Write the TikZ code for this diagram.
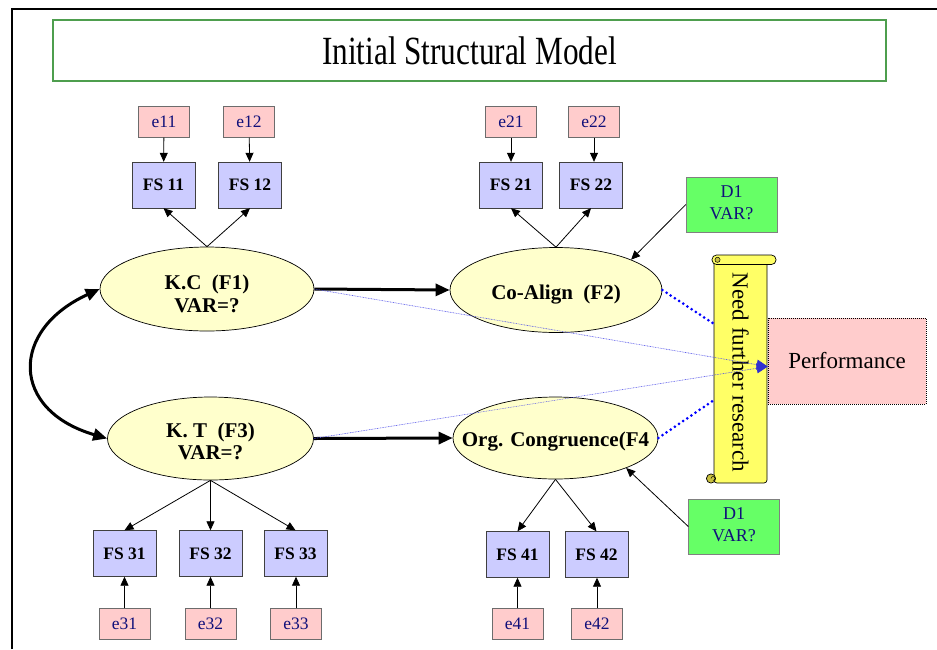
\documentclass[tikz,border=0pt]{standalone}
\usepackage{fontspec}
\setmainfont{Liberation Serif}
\usetikzlibrary{arrows.meta,shapes.geometric,calc}

\definecolor{ebox}{HTML}{FFCCCC}
\definecolor{fsbox}{HTML}{CCCCFF}
\definecolor{latent}{HTML}{FFFFCC}
\definecolor{dbox}{HTML}{66FF66}
\definecolor{navy}{HTML}{10107A}
\definecolor{titlegreen}{HTML}{4E9E4E}
\definecolor{scrollfill}{HTML}{FFFF66}
\definecolor{curlfill}{HTML}{C8C040}
\definecolor{linkblue}{HTML}{0000FF}
\definecolor{faintblue}{HTML}{5050E8}
\definecolor{tipblue}{HTML}{3030D0}

\newcommand{\twolines}[2]{\begin{tabular}{@{}c@{}}#1\\#2\end{tabular}}

\begin{document}
\begin{tikzpicture}[x=1pt,y=-1pt,
  errbox/.style={draw=gray!85!black, fill=ebox, minimum width=51pt, minimum height=31pt,
    inner sep=0pt, font=\fontsize{17.5}{20}\selectfont, text=navy},
  indbox/.style={draw=black!75, fill=fsbox, minimum width=63pt, minimum height=46pt,
    inner sep=0pt, font=\fontsize{17.5}{20}\selectfont\bfseries},
  factor/.style={ellipse, draw, line width=0.7pt, fill=latent, inner sep=0pt},
  factortext/.style={inner sep=0pt, font=\fontsize{21}{22.5}\selectfont\bfseries},
  distbox/.style={draw=gray, fill=dbox, minimum width=91pt, minimum height=55pt,
    inner sep=0pt, font=\fontsize{18}{22}\selectfont, text=navy},
  load/.style={-{Triangle[length=9pt,width=8pt]}, line width=0.8pt},
  structural/.style={-{Triangle[length=14pt,width=12pt]}, line width=3pt},
  faintlink/.style={faintblue, line width=0.6pt, dash pattern=on 0.8pt off 0.8pt,
    -{Triangle[length=11pt,width=10pt,fill=tipblue,color=tipblue]}},
  pendinglink/.style={linkblue, line width=3pt, line cap=round, dash pattern=on 0pt off 5pt}
]
\useasboundingbox (0,0) rectangle (937,649);

% page frame
\draw[line width=2.4pt] (12,649) -- (12,9) -- (937,9);

% title
\node[draw=titlegreen, line width=1.2pt, minimum width=833pt, minimum height=61pt, inner sep=0pt]
  (title) at (469.5,50.5)
  {\scalebox{0.78}[1]{\fontsize{40}{40}\selectfont Initial Structural Model}};

% latent factors
\node[factor, minimum width=214pt, minimum height=84pt,
  label={[factortext, yshift=-7.5pt]center:\twolines{K.C\ \ (F1)}{VAR=?}}] (kc) at (207,289) {};
\node[factor, minimum width=212pt, minimum height=85pt,
  label={[factortext, yshift=-4.5pt]center:Co-Align\ \ (F2)}] (ca) at (556,290) {};
\node[factor, minimum width=206pt, minimum height=83pt,
  label={[factortext, yshift=-5.5pt]center:\twolines{K. T\ \ (F3)}{VAR=?}}] (kt) at (210.5,438.5) {};
\node[factor, minimum width=205pt, minimum height=82pt,
  label={[factortext, yshift=-3.5pt]center:Org. Congruence(F4}] (oc) at (555.5,438) {};

% indicators
\node[indbox] (fs11) at (163.5,185) {FS 11};
\node[indbox] (fs12) at (250,185) {FS 12};
\node[indbox] (fs21) at (511,185) {FS 21};
\node[indbox] (fs22) at (591,185) {FS 22};
\node[indbox] (fs31) at (124.5,553.5) {FS 31};
\node[indbox] (fs32) at (210.5,553.5) {FS 32};
\node[indbox] (fs33) at (295.5,553.5) {FS 33};
\node[indbox] (fs41) at (517.5,554.5) {FS 41};
\node[indbox] (fs42) at (596.5,554.5) {FS 42};

% error terms
\node[errbox] (e11) at (164,122) {e11};
\node[errbox] (e12) at (249,122) {e12};
\node[errbox] (e21) at (511,122) {e21};
\node[errbox] (e22) at (594,122) {e22};
\node[errbox] (e31) at (124.5,624) {e31};
\node[errbox] (e32) at (210.5,624) {e32};
\node[errbox] (e33) at (296,624) {e33};
\node[errbox] (e41) at (517.5,624) {e41};
\node[errbox] (e42) at (597,624) {e42};

% disturbances
\node[distbox] (d1a) at (731.5,204.5) {\twolines{D1}{VAR?}};
\node[distbox] (d1b) at (734,526.5) {\twolines{D1}{VAR?}};

% outcome
\node[draw, line width=0.6pt, dash pattern=on 1pt off 1pt, fill=ebox,
  minimum width=158pt, minimum height=86pt, inner sep=0pt,
  font=\fontsize{23}{26}\selectfont] (perf) at (847,361) {Performance};

% scroll
\draw[line width=0.7pt, fill=scrollfill, rounded corners=3pt]
  (714,262) -- (714,483) -- (767,483) -- (767,262);
\draw[line width=0.7pt, fill=scrollfill, rounded corners=4.5pt]
  (712,255) rectangle (776,264.5);
\draw[line width=0.5pt, fill=curlfill] (717.5,259.8) circle (2.6pt);
\draw[line width=0.7pt, fill=curlfill] (711,478.5) circle (4.6pt);
\draw[line width=0.5pt] (711,478.5) arc[start angle=180, end angle=-90, radius=2pt];
\node[minimum width=53pt, minimum height=221pt, inner sep=0pt,
  font=\fontsize{23}{26}\selectfont] (nfr) at (740.5,372.5)
  {\rotatebox{-90}{Need further research}};

% measurement paths
\draw[load] (e11) -- (fs11);
\draw[load] (e12) -- (fs12);
\draw[load] (e21) -- (fs21);
\draw[load] (e22) -- (e22 |- fs22.north);
\draw[load] (e31) -- (fs31);
\draw[load] (e32) -- (fs32);
\draw[load] (e33) -- (e33 |- fs33.south);
\draw[load] (e41) -- (fs41);
\draw[load] (e42) -- (e42 |- fs42.south);

\draw[load] (kc.north) -- (fs11.south);
\draw[load] (kc.north) -- (fs12.south);
\draw[load] (ca.north) -- (fs21.south);
\draw[load] (ca.north) -- (fs22.south);
\draw[load] (kt.south) -- (fs31.north);
\draw[load] (kt.south) -- (fs32.north);
\draw[load] (kt.south) -- (fs33.north);
\draw[load] (oc.south) -- (fs41.north);
\draw[load] (oc.south) -- (fs42.north);

\draw[load] (d1a.west) -- (ca.22);
\draw[load] (d1b.west) -- (oc.-23);

% structural paths
\draw[structural] (kc.east) -- (ca.west);
\draw[structural] (kt.east) -- (oc.west);
\draw[{Triangle[length=14pt,width=12pt]}-{Triangle[length=14pt,width=12pt]}, line width=3pt]
  (kc.west) .. controls (10,330) and (10,410) .. (kt.west);

% links still to be studied
\draw[faintlink] (kc.east) -- (perf.184);
\draw[faintlink] (kt.east) -- (perf.184);
\draw[pendinglink] (ca.east) -- ($(nfr.north west)!0.28!(nfr.south west)$);
\draw[pendinglink] (oc.east) -- ($(nfr.north west)!0.625!(nfr.south west)$);

\end{tikzpicture}
\end{document}
